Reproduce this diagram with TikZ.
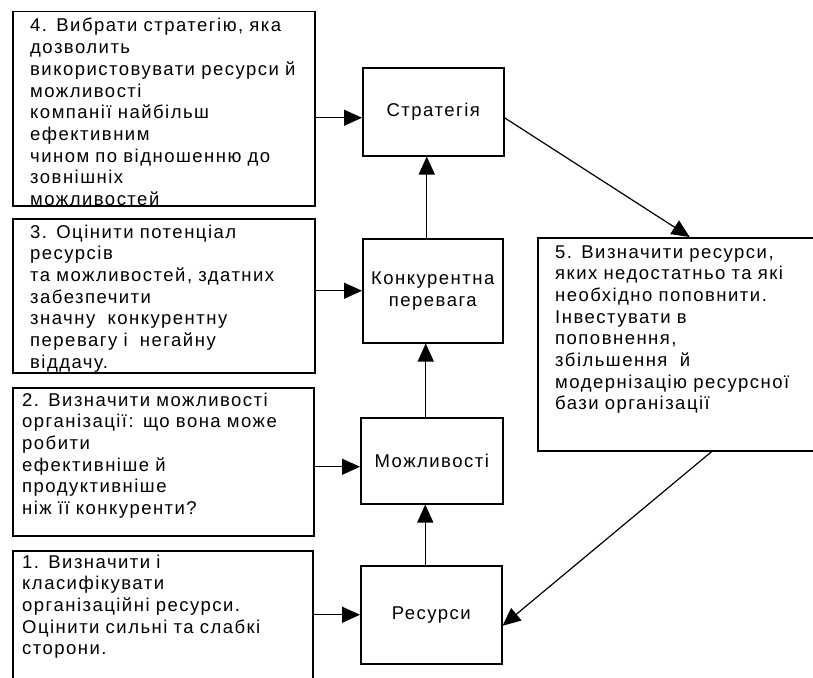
\documentclass[tikz,border=0pt]{standalone}
\usepackage{fontspec}
\setmainfont{Liberation Sans}[LetterSpace=8]
\usetikzlibrary{arrows.meta}
\begin{document}
\begin{tikzpicture}[x=1pt,y=-1pt,
  box/.style={draw, line width=1.5pt, rectangle, inner sep=0pt, anchor=north west},
  txt/.style={anchor=base west, inner sep=0pt, text width=300pt, align=left,
              font=\fontsize{18.5}{21.7}\selectfont},
  ctr/.style={inner sep=0pt, align=center, font=\fontsize{18.5}{21.7}\selectfont},
  arr/.style={line width=1.2pt, -{Triangle[length=18pt,width=16pt]}}]
\useasboundingbox (0,0) rectangle (813,677);
\clip (0,0) rectangle (813,677);
\fill[white] (0,0) rectangle (813,677);

% left column: steps 1-4
\node[box, minimum width=302pt, minimum height=194pt] (b4) at (12,11) {};
\node[box, minimum width=302pt, minimum height=154pt] (b3) at (12,218) {};
\node[box, minimum width=301pt, minimum height=148pt] (b2) at (12,387) {};
\node[box, minimum width=300pt, minimum height=140pt] (b1) at (12,550) {};

% middle column
\node[box, minimum width=141pt, minimum height=88pt] (strat) at (362,67) {};
\node[box, minimum width=140pt, minimum height=104pt] (kon) at (362,238) {};
\node[box, minimum width=142pt, minimum height=86pt] (mozh) at (360,417) {};
\node[box, minimum width=141pt, minimum height=98pt] (res) at (360,565) {};

% right: step 5
\node[box, minimum width=280pt, minimum height=213pt] (b5) at (537,237) {};

% texts of the steps
\node[txt] (t4) at ([shift={(18,21)}]b4.north west)
  {4. Вибрати стратегію, яка\\дозволить\\використовувати ресурси й\\можливості\\компанії найбільш\\ефективним\\чином по відношенню до\\зовнішніх\\можливостей};
\node[txt] (t3) at ([shift={(18,20)}]b3.north west)
  {3. Оцінити потенціал\\ресурсів\\та можливостей, здатних\\забезпечити\\значну\ \ конкурентну\\перевагу і\ \ негайну\\віддачу.};
\node[txt] (t2) at ([shift={(10,19)}]b2.north west)
  {2. Визначити можливості\\організації: що вона може\\робити\\ефективніше й\\продуктивніше\\ніж її конкуренти?};
\node[txt] (t1) at ([shift={(10,18)}]b1.north west)
  {1. Визначити і\\класифікувати\\організаційні ресурси.\\Оцінити сильні та слабкі\\сторони.};
\node[txt] (t5) at ([shift={(18,21)}]b5.north west)
  {5. Визначити ресурси,\\яких недостатньо та які\\необхідно поповнити.\\Інвестувати в\\поповнення,\\збільшення\ \ й\\модернізацію ресурсної\\бази організації};

\node[ctr] (ls) at (strat.center) {Стратегія};
\node[ctr] (lk) at (kon.center) {Конкурентна\\перевага};
\node[ctr] (lm) at (mozh.center) {Можливості};
\node[ctr] (lr) at (res.center) {Ресурси};

% connector end points
\coordinate (sIn) at ([yshift=-6pt]strat.west);
\coordinate (mIn) at ([yshift=-6pt]mozh.west);
\coordinate (kUp) at ([xshift=-6pt]kon.north);
\coordinate (mUp) at ([xshift=-6pt]mozh.north);
\coordinate (rUp) at ([xshift=-6pt]res.north);

% horizontal connectors
\draw[arr] (b4.east |- sIn) -- (sIn);
\draw[arr] (b3.east |- kon.west) -- (kon.west);
\draw[arr] (b2.east |- mIn) -- (mIn);
\draw[arr] (b1.east |- res.west) -- (res.west);

% vertical connectors
\draw[arr] (kUp) -- (kUp |- strat.south);
\draw[arr] (mUp) -- (mUp |- kon.south);
\draw[arr] (rUp) -- (rUp |- mozh.south);

% diagonal connectors
\draw[arr] ([yshift=-6pt]strat.east) -- ([xshift=12pt]b5.north);
\draw[arr] ([xshift=34pt]b5.south) -- ([yshift=-11pt]res.east);
\end{tikzpicture}
\end{document}
